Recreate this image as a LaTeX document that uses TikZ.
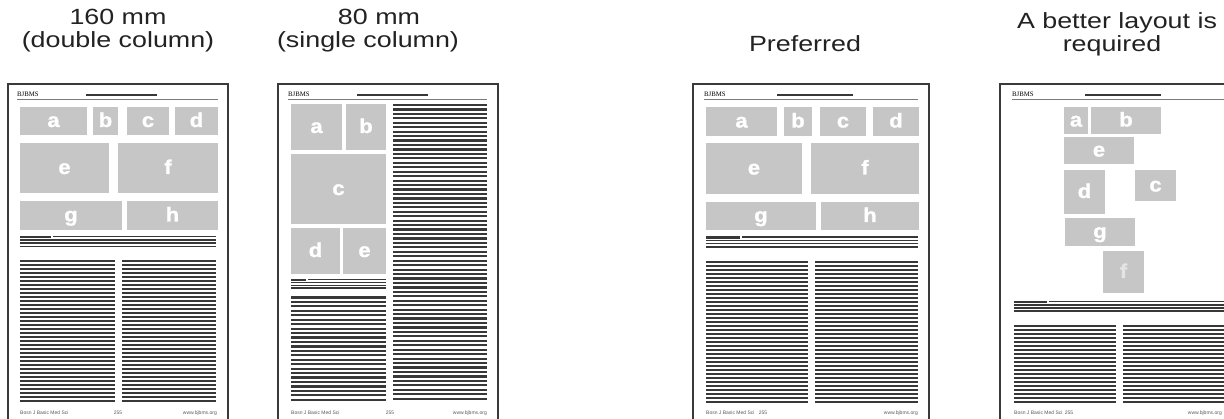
\documentclass[tikz,border=0pt]{standalone}
\usepackage{fontspec}
\setmainfont{Liberation Sans}
\newfontfamily\labfont[FakeStretch=1.22]{Liberation Sans}
\newfontfamily\pnlfont[FakeStretch=1.1,FakeBold=1.2]{Liberation Sans Bold}
\newfontfamily\serifhead{Liberation Serif}
\definecolor{panelgray}{HTML}{C6C6C6}
\definecolor{linegray}{HTML}{383838}
\definecolor{bordergray}{HTML}{3A3A3A}
\definecolor{rulegray}{HTML}{7A7A7A}
\definecolor{footgray}{HTML}{5A5A5A}
\definecolor{labelgray}{HTML}{222222}
\definecolor{fainttext}{HTML}{E4E4E4}
\tikzset{
  pageframe/.style={draw=bordergray, line width=1.5pt},
  panellabel/.style={text=white, font=\pnlfont\fontsize{20}{20}\selectfont, inner sep=0pt},
  txtline/.style={draw=linegray, line width=2.2pt},
  capthick/.style={draw=linegray, line width=2.4pt},
  capthin/.style={draw=linegray, line width=1.2pt},
  capline/.style={draw=linegray, line width=1.5pt},
  titlebar/.style={draw=linegray, line width=2.5pt},
  headrule/.style={draw=rulegray, line width=1.2pt},
  headtext/.style={font=\serifhead\fontsize{6.8}{6.8}\selectfont, text=black, inner sep=0pt, anchor=base west},
  foottext/.style={font=\fontsize{5}{5}\selectfont, text=footgray, inner sep=0pt},
  toplabel/.style={font=\labfont\fontsize{22}{22}\selectfont, text=labelgray, inner sep=0pt, anchor=base},
}
\newcommand\pframe[2]{\draw[pageframe] (#1,430) -- (#1,84) -- (#2,84) -- (#2,430);}
\newcommand\phead[5]{% name textx barx1 barx2 rulex2
  \node[headtext] (#1) at (#2,96.5) {BJBMS};
  \draw[titlebar] (#3,95) -- (#4,95);
  \draw[headrule] (#2,99.5) -- (#5,99.5);}
\newcommand\tcol[5]{% x1 x2 y0 n pitch
  \foreach \k in {1,...,#4}{\draw[txtline] (#1,{#3+(\k-1)*#5}) -- (#2,{#3+(\k-1)*#5});}}
\newcommand\capblk[5]{% x1 xs x2 y0 pitch
  \draw[capthick] (#1,#4) -- (#2,#4);
  \draw[capthin] ({#2+2},{#4-0.5}) -- (#3,{#4-0.5});
  \foreach \k in {1,2,3}{\draw[capline] (#1,{#4+\k*#5}) -- (#3,{#4+\k*#5});}}
\newcommand\pfoot[5]{% name x1 xmid x2 y
  \node[foottext, anchor=base west] (#1l) at (#2,#5) {Bosn J Basic Med Sci};
  \node[foottext, anchor=base] (#1m) at (#3,#5) {255};
  \node[foottext, anchor=base east] (#1r) at (#4,#5) {www.bjbms.org};}
\newcommand\pnl[6]{% name x1 y1 x2 y2 label
  \fill[panelgray] (#2,#3) rectangle (#4,#5);
  \node[panellabel, anchor=base] (#1) at ({(#2+#4)/2},{(#3+#5)/2+6}) {#6};}
\begin{document}
\begin{tikzpicture}[x=1pt,y=-1pt]
\useasboundingbox (0,0) rectangle (1224,419);
\clip (0,0) rectangle (1224,419);
\fill[white] (0,0) rectangle (1224,419);
% ---- labels
\node[toplabel] (l1a) at (118,25) {160 mm};
\node[toplabel] (l1b) at (118,48) {(double column)};
\node[toplabel] (l2a) at (379,25) {80 mm};
\node[toplabel] (l2b) at (368,48) {(single column)};
\node[toplabel] (l3) at (805,52) {Preferred};
\node[toplabel] (l4a) at (1117,29) {A better layout is};
\node[toplabel] (l4b) at (1112,52) {required};
% ---- page 1
\pframe{8}{228}
\phead{h1}{17}{86}{157}{218}
\pnl{p1a}{20}{107}{87}{135}{a}
\pnl{p1b}{93}{107}{118}{135}{b}
\pnl{p1c}{127}{107}{169}{135}{c}
\pnl{p1d}{175}{107}{218}{135}{d}
\pnl{p1e}{20}{143}{109}{193}{e}
\pnl{p1f}{118}{143}{218}{193}{f}
\pnl{p1g}{20}{201}{122}{230}{g}
\pnl{p1h}{127}{201}{218}{230}{h}
\capblk{20}{51}{216}{237}{3.1}
\tcol{20}{115}{261}{36}{4}
\tcol{122}{216}{261}{36}{4}
\pfoot{f1}{20}{118}{217}{415}
% ---- page 2
\pframe{278}{498}
\phead{h2}{288}{357}{428}{487}
\pnl{p2a}{291}{104}{342}{150}{a}
\pnl{p2b}{346}{104}{386}{150}{b}
\pnl{p2c}{291}{154}{386}{224}{c}
\pnl{p2d}{291}{228}{340}{274}{d}
\pnl{p2e}{343}{228}{386}{274}{e}
\capblk{291}{306}{386}{280}{2.7}
\tcol{291}{386}{297.5}{24}{4.45}
\tcol{393}{487}{105}{67}{4.45}
\pfoot{f2}{291}{390}{487}{415}
% ---- page 3
\pframe{693}{929}
\phead{h3}{704}{777}{853}{918}
\pnl{p3a}{706}{107}{777}{136}{a}
\pnl{p3b}{784}{107}{812}{136}{b}
\pnl{p3c}{820}{107}{866}{136}{c}
\pnl{p3d}{873}{107}{919}{136}{d}
\pnl{p3e}{706}{143}{802}{194}{e}
\pnl{p3f}{811}{143}{919}{194}{f}
\pnl{p3g}{706}{202}{816}{230}{g}
\pnl{p3h}{821}{202}{919}{230}{h}
\capblk{706}{740}{918}{237.5}{3.1}
\tcol{706}{808}{262}{36}{4}
\tcol{815}{918}{262}{36}{4}
\pfoot{f3}{706}{763}{918}{415}
% ---- page 4
\pframe{1000}{1236}
\phead{h4}{1012}{1085}{1161}{1236}
\pnl{p4a}{1064}{107}{1088}{134}{a}
\pnl{p4b}{1091}{107}{1161}{134}{b}
\pnl{p4e}{1064}{137}{1134}{164}{e}
\pnl{p4d}{1064}{170}{1105}{214}{d}
\pnl{p4c}{1135}{170}{1176}{201}{c}
\pnl{p4g}{1065}{218}{1135}{246}{g}
\fill[panelgray] (1103,251) rectangle (1144,293);
\node[panellabel, text=fainttext, anchor=base] (p4f) at (1123.5,278) {f};
\capblk{1014}{1047}{1236}{302}{3}
\tcol{1014}{1116}{326}{20}{4}
\tcol{1123}{1236}{326}{20}{4}
\pfoot{f4}{1014}{1069}{1222}{415}
\end{tikzpicture}
\end{document}
